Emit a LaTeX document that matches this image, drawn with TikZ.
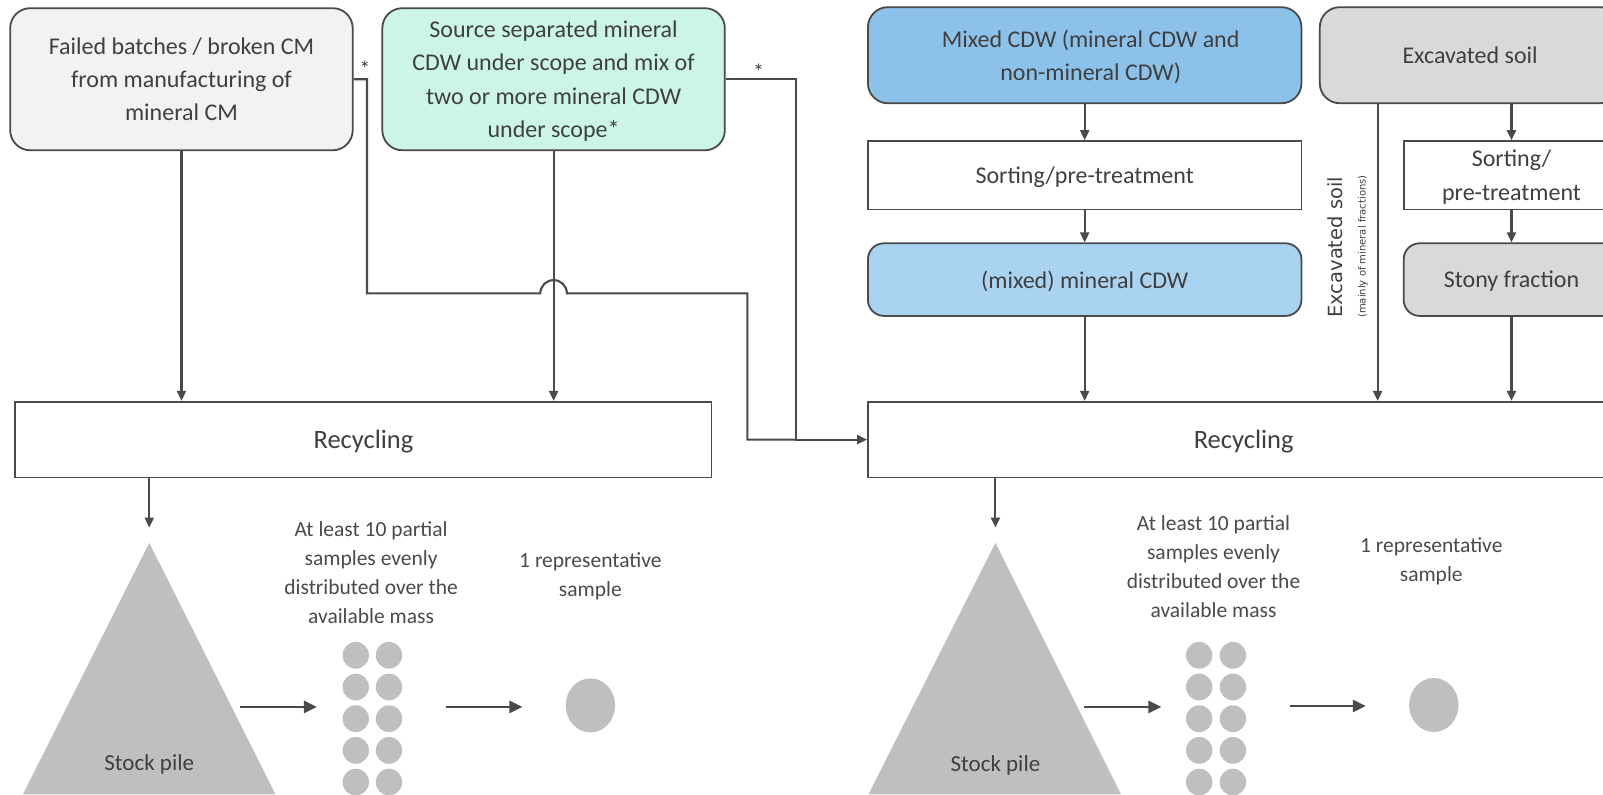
\documentclass[tikz,border=0pt]{standalone}
\usepackage{fontspec}
\setmainfont{Carlito}
\newfontfamily\tagfont{DejaVu Sans}
\usetikzlibrary{arrows.meta,calc}

\definecolor{ink}{HTML}{3F3F3F}
\definecolor{inksoft}{HTML}{4A4A4A}
\definecolor{wire}{HTML}{4A4A4A}
\definecolor{paleGrey}{HTML}{F2F2F2}
\definecolor{mint}{HTML}{CCF5E6}
\definecolor{midBlue}{HTML}{8CC1E9}
\definecolor{lightBlue}{HTML}{AAD3F2}
\definecolor{soilGrey}{HTML}{D9D9D9}
\definecolor{pile}{HTML}{BFBFBF}

\newcommand\boxtext{\fontsize{24}{33.4}\selectfont}
\newcommand\bigtext{\fontsize{26.5}{32}\selectfont}
\newcommand\notetext{\fontsize{21.5}{29}\selectfont}
\newcommand\piletext{\fontsize{23}{28}\selectfont}

\begin{document}
\begin{tikzpicture}[x=1.0223pt,y=-1.0223pt,
  blk/.style 2 args={draw=wire,line width=1.8pt,inner sep=0pt,align=center,
    text=ink,font=\boxtext,text depth=0pt,minimum width=#1,minimum height=#2},
  rblk/.style 2 args={blk={#1}{#2},rounded corners=20pt},
  link/.style={draw=wire,line width=2.1pt},
  arr/.style={link,-{Triangle[length=10pt,width=9pt]}},
  flow/.style={draw=wire,line width=2.8pt,-{Triangle[length=13pt,width=12pt]}},
  note/.style={align=center,text=inksoft,font=\notetext,inner sep=0pt},
  star/.style={text=ink,font=\fontsize{22}{22}\selectfont,inner sep=0pt}]

\useasboundingbox (0,0) rectangle (1568,777);
\fill[white] (0,0) rectangle (1568,777);
\clip (0,0) rectangle (1568,777);

% ---------- left flow: manufacturing rejects and source-separated CDW ----------
\node[rblk={342.5pt}{142.1pt},fill=paleGrey] (A) at (177.5,77.5)
  {Failed batches / broken CM\\from manufacturing of\\mineral CM};
\node[rblk={342.5pt}{142.1pt},fill=mint] (B) at (541.5,77.5)
  {Source separated mineral\\CDW under scope and mix of\\two or more mineral CDW\\under scope*};
\node[blk={696.2pt}{75.65pt},font=\bigtext] (R1) at (355.5,430) {Recycling};

\node[star] (starA) at (357,67) {*};
\node[star] (starB) at (742,70) {*};

% ---------- right flow: mixed CDW and excavated soil ----------
\node[rblk={433.5pt}{96.1pt},fill=midBlue] (C) at (1061,54)
  {\hspace*{12pt}Mixed CDW (mineral CDW and\\\hspace*{12pt}non-mineral CDW)};
\node[rblk={300.6pt}{96.1pt},fill=soilGrey] (D) at (1438,54) {Excavated soil};
\node[blk={433.5pt}{68.5pt},fill=white] (S1) at (1061,171.5) {Sorting/pre-treatment};
\node[rblk={433.5pt}{72.6pt},rounded corners=16pt,fill=lightBlue] (M) at (1061,273.5)
  {(mixed) mineral CDW};
\node[blk={215.7pt}{68.5pt},fill=white] (S2) at (1478.5,171.5) {Sorting/\\pre-treatment};
\node[rblk={215.7pt}{72.6pt},rounded corners=16pt,fill=soilGrey] (ST) at (1478.5,273.5)
  {Stony fraction};
\node[blk={751.4pt}{75.65pt},font=\bigtext] (R2) at (1216.5,430) {Recycling};

\node[rotate=90,anchor=west,inner sep=0pt,text=ink,
      font=\tagfont\fontsize{19.5}{20}\selectfont] (soiltag) at (1306,311) {Excavated soil};
\node[rotate=90,anchor=west,inner sep=0pt,text=ink,
      font=\tagfont\fontsize{10}{12}\selectfont] (soilnote) at (1333,311) {(mainly of mineral fractions)};

% ---------- connectors ----------
\coordinate (j1) at (359,287);
\coordinate (j2) at (731,287);
\coordinate (j3) at (779,430);
\coordinate (soilx) at (1347.5,0);

\draw[arr] (A.south) -- (A.south |- R1.north);
\draw[arr] (B.south) -- (B.south |- R1.north);

% rejects bypass line, hopping over the vertical feed
\draw[link,line join=miter] (A.east) -| (j1) -- ($(B.south |- j1)+(-13,0)$)
  arc[start angle=180,end angle=0,radius=13.3pt] -- (j2) |- (j3);
\draw[arr,line join=miter] (B.east) -| (j3) -- (R2.west);

\draw[arr] (C.south) -- (S1.north);
\draw[arr] (S1.south) -- (M.north);
\draw[arr] (M.south) -- (M.south |- R2.north);
\draw[arr] (D.south -| soilx) -- (soilx |- R2.north);
\draw[arr] (S2.north |- D.south) -- (S2.north);
\draw[arr] (S2.south) -- (ST.north);
\draw[arr] (ST.south) -- (ST.south |- R2.north);

% ---------- sampling schemes ----------
\coordinate (apexL) at (146,531);
\coordinate (apexR) at (973.7,531);
\draw[arr,shorten >=15.3pt] (R1.south -| apexL) -- (apexL);
\draw[arr,shorten >=15.3pt] (R2.south -| apexR) -- (apexR);

\fill[pile] (apexL) -- (22.5,777) -- (269.5,777) -- cycle;
\fill[pile] (apexR) -- (849.5,777) -- (1096.5,777) -- cycle;
\node[text=ink,font=\piletext,inner sep=0pt] (pileL) at (146,748) {Stock pile};
\node[text=ink,font=\piletext,inner sep=0pt] (pileR) at (973.7,749) {Stock pile};

\foreach \r in {0,...,4} {
  \fill[pile] (348,641+31*\r) ellipse[x radius=13.2pt,y radius=13.4pt];
  \fill[pile] (380.5,641+31*\r) ellipse[x radius=13.2pt,y radius=13.4pt];
  \fill[pile] (1173,641+31*\r) ellipse[x radius=13.2pt,y radius=13.4pt];
  \fill[pile] (1206,641+31*\r) ellipse[x radius=13.2pt,y radius=13.4pt];
}
\fill[pile] (577.5,690) ellipse[x radius=24.7pt,y radius=27pt];
\fill[pile] (1402.5,689.6) ellipse[x radius=24.7pt,y radius=27pt];

\coordinate (l1s) at (235,691.5);   \coordinate (l1e) at (310,691.5);
\coordinate (l2s) at (436,691.5);   \coordinate (l2e) at (511,691.5);
\coordinate (r1s) at (1060.5,691.5); \coordinate (r1e) at (1136,691.5);
\coordinate (r2s) at (1261.7,690.6); \coordinate (r2e) at (1336,690.6);
\draw[flow] (l1s) -- (l1e);
\draw[flow] (l2s) -- (l2e);
\draw[flow] (r1s) -- (r1e);
\draw[flow] (r2s) -- (r2e);

\node[note] (partsL) at (363,560.5)
  {At least 10 partial\\samples evenly\\distributed over the\\available mass};
\node[note] (repL) at (577.5,563.6) {1 representative\\sample};
\node[note] (partsR) at (1187,554.5)
  {At least 10 partial\\samples evenly\\distributed over the\\available mass};
\node[note] (repR) at (1400,548.6) {1 representative\\sample};

\end{tikzpicture}
\end{document}
